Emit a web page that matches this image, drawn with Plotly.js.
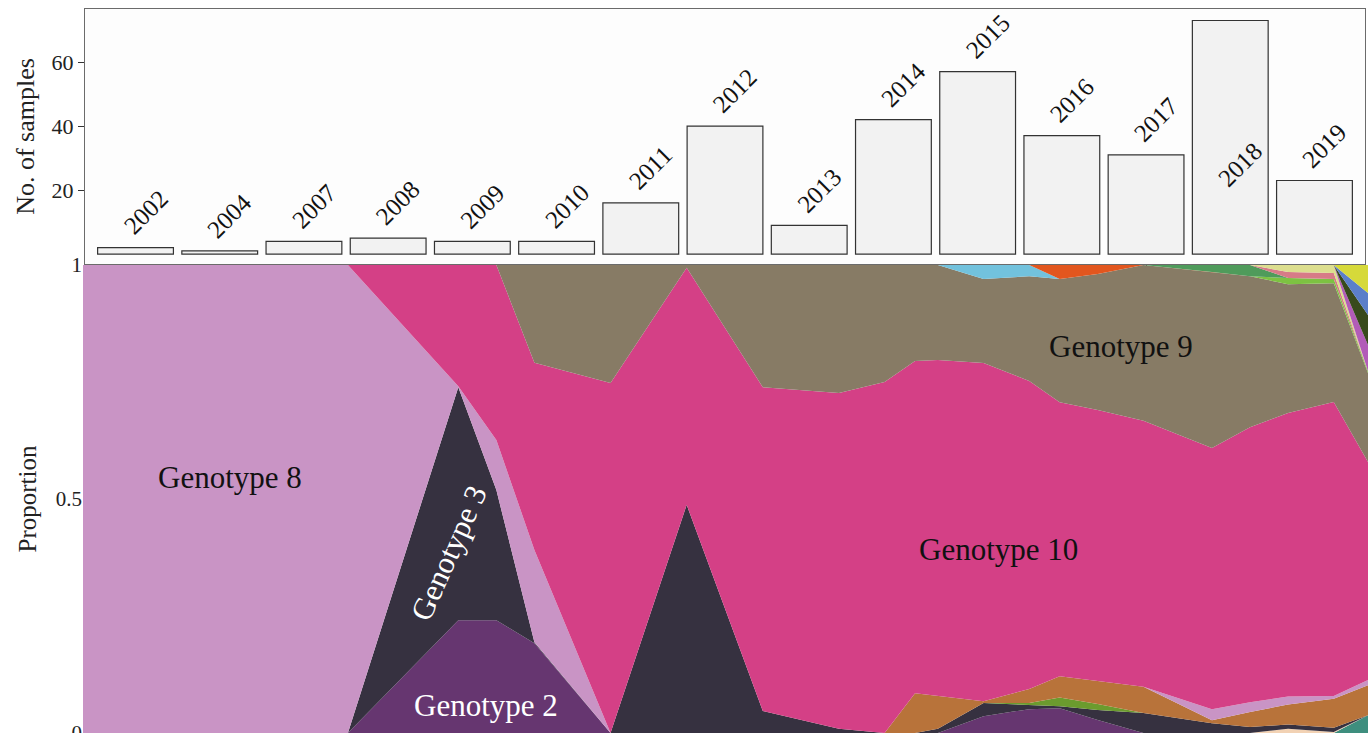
<!DOCTYPE html>
<html>
<head>
<meta charset="utf-8">
<script src="https://cdn.plot.ly/plotly-3.0.1.min.js"></script>
<style>
  html, body { margin: 0; padding: 0; background: #ffffff; }
  #chart { width: 1372px; height: 733px; }
</style>
</head>
<body>
<div id="chart"></div>
<script>
// ---------- Top panel: number of samples per year ----------
const years = ["2002","2004","2007","2008","2009","2010","2011","2012","2013","2014","2015","2016","2017","2018","2019"];
const sampleCounts = [2, 1, 4, 5, 4, 4, 16, 40, 9, 42, 57, 37, 31, 73, 23];

// ---------- Bottom panel: genotype proportions through time ----------
const timePoints = [2004.07, 2007.55, 2009.0, 2009.5, 2010.0, 2011.0, 2012.0, 2013.0, 2014.0, 2014.6, 2015.0,
                    2015.3, 2015.9, 2016.5, 2016.9, 2017.4, 2018.0, 2018.9, 2019.4, 2019.9, 2020.5, 2020.95];

const otherTeal   = [0,0,0,0,0,0,0,0,0,0,0,0,0,0,0,0,0,0,0,0,0,0.038];
const otherBeige  = [0,0,0,0,0,0,0,0,0,0,0,0,0,0,0,0,0,0,0,0.009,0.002,0];
const genotype2   = [0,0,0.241,0.241,0.192,0,0,0,0,0,0,0,0.036,0.051,0.053,0.028,0,0,0,0,0,0];
const genotype3   = [0,0,0.498,0.278,0.002,0,0.487,0.047,0.009,0,0,0.009,0.028,0.009,0.004,0.021,0.043,0.021,0.013,0.009,0.009,0];
const otherOlive  = [0,0,0,0,0,0,0,0,0,0,0,0,0,0.004,0.019,0.013,0,0,0,0,0,0];
const otherOchre  = [0,0,0,0,0,0,0,0,0,0,0.085,0.071,0.004,0.030,0.045,0.049,0.056,0.006,0.032,0.043,0.062,0.064];
const genotype8   = [1,1,0.002,0.107,0.197,0,0,0,0,0,0,0,0,0,0,0,0,0.024,0.021,0.017,0.006,0.011];
const genotype10  = [0,0,0.259,0.374,0.400,0.748,0.506,0.692,0.718,0.750,0.709,0.718,0.722,0.658,0.585,0.579,0.568,0.558,0.588,0.607,0.628,0.466];
const genotype9   = [0,0,0,0,0.209,0.252,0.006,0.261,0.274,0.250,0.205,0.203,0.179,0.224,0.263,0.291,0.333,0.376,0.323,0.276,0.254,0.190];
const otherLime   = [0,0,0,0,0,0,0,0,0,0,0,0,0,0,0,0,0,0,0,0.013,0.009,0.004];
const otherCyan   = [0,0,0,0,0,0,0,0,0,0,0,0,0.030,0.024,0,0,0,0,0,0,0,0];
const otherOrange = [0,0,0,0,0,0,0,0,0,0,0,0,0,0,0.030,0.019,0,0,0,0,0,0];
const otherGreen  = [0,0,0,0,0,0,0,0,0,0,0,0,0,0,0,0,0,0.015,0.024,0,0,0];
const otherRose   = [0,0,0,0,0,0,0,0,0,0,0,0,0,0,0,0,0,0,0,0.013,0.013,0];
const otherCream  = [0,0,0,0,0,0,0,0,0,0,0,0,0,0,0,0,0,0,0,0.015,0.017,0];
const otherViolet = [0,0,0,0,0,0,0,0,0,0,0,0,0,0,0,0,0,0,0,0,0,0.056];
const otherForest = [0,0,0,0,0,0,0,0,0,0,0,0,0,0,0,0,0,0,0,0,0,0.064];
const otherBlue   = [0,0,0,0,0,0,0,0,0,0,0,0,0,0,0,0,0,0,0,0,0,0.047];
const otherYellow = [0,0,0,0,0,0,0,0,0,0,0,0,0,0,0,0,0,0,0,0,0,0.060];

// stacking order, bottom to top
const stackSeries = [
  ["Other (teal)",   otherTeal,   "#3e8e7e"],
  ["Other (beige)",  otherBeige,  "#f2d2b4"],
  ["Genotype 2",     genotype2,   "#663670"],
  ["Genotype 3",     genotype3,   "#363140"],
  ["Other (olive)",  otherOlive,  "#6b9b2e"],
  ["Other (ochre)",  otherOchre,  "#b8733a"],
  ["Genotype 8",     genotype8,   "#c994c5"],
  ["Genotype 10",    genotype10,  "#d44086"],
  ["Genotype 9",     genotype9,   "#877b65"],
  ["Other (lime)",   otherLime,   "#7dc242"],
  ["Other (cyan)",   otherCyan,   "#72c2dd"],
  ["Other (orange)", otherOrange, "#e2561e"],
  ["Other (green)",  otherGreen,  "#4f9b5b"],
  ["Other (rose)",   otherRose,   "#d77b87"],
  ["Other (cream)",  otherCream,  "#dcde8e"],
  ["Other (violet)", otherViolet, "#b25cb8"],
  ["Other (forest)", otherForest, "#384a1c"],
  ["Other (blue)",   otherBlue,   "#5b7fc9"],
  ["Other (yellow)", otherYellow, "#d6d93a"]
];

const genotypeLabels = [
  {text: "Genotype 8",  t: 2006.0,  p: 0.545, color: "#111111", angle: 0},
  {text: "Genotype 3",  t: 2008.88, p: 0.385, color: "#ffffff", angle: -66},
  {text: "Genotype 2",  t: 2009.36, p: 0.058, color: "#ffffff", angle: 0},
  {text: "Genotype 10", t: 2016.09, p: 0.393, color: "#111111", angle: 0},
  {text: "Genotype 9",  t: 2017.70, p: 0.825, color: "#111111", angle: 0}
];

const FONT = '"Liberation Serif", "Times New Roman", Times, serif';
const W = 1372, H = 733;

const traces = [];
traces.push({
  type: "bar", x: years, y: sampleCounts, xaxis: "x", yaxis: "y",
  marker: {color: "#f2f2f2", line: {color: "#333333", width: 1.2}},
  width: 0.9, hoverinfo: "skip", showlegend: false
});
stackSeries.forEach(([name, vals, col], i) => {
  const tr = {
    type: "scatter", mode: "lines", name: name,
    x: timePoints, y: vals, xaxis: "x2", yaxis: "y2",
    stackgroup: "geno", line: {width: 0, shape: "linear"},
    fillcolor: col, hoverinfo: "skip", showlegend: false
  };
  if (i === 0) tr.groupnorm = "fraction";
  traces.push(tr);
});

const yTopMax = 76.6;
const annotations = [];
years.forEach((yr, i) => {
  const v = sampleCounts[i];
  const yPos = (v + 11 > yTopMax - 5) ? v - 45 : v + 11;
  annotations.push({
    x: i, y: yPos, xref: "x", yref: "y", text: yr, showarrow: false,
    textangle: -45, xshift: 10, font: {family: FONT, size: 25, color: "#111111"}
  });
});
genotypeLabels.forEach(g => {
  annotations.push({
    x: g.t, y: g.p, xref: "x2", yref: "y2", text: g.text, showarrow: false,
    textangle: g.angle, font: {family: FONT, size: 31, color: g.color}
  });
});

const layout = {
  width: W, height: H,
  margin: {l: 0, r: 0, t: 0, b: 0},
  paper_bgcolor: "#ffffff", plot_bgcolor: "#fdfdfd",
  font: {family: FONT, color: "#222222"},
  showlegend: false, hovermode: false,
  xaxis: {
    domain: [85 / W, 1365 / W], anchor: "y", type: "category",
    range: [-0.6, 14.6], showticklabels: false,
    ticks: "outside", ticklen: 4, tickcolor: "#333333",
    showline: true, mirror: true, linecolor: "#6b6b6b", linewidth: 1,
    showgrid: false, zeroline: false
  },
  yaxis: {
    domain: [1 - 264 / H, 1 - 9 / H], anchor: "x",
    range: [-3.1, yTopMax], tickvals: [20, 40, 60],
    ticks: "outside", ticklen: 6, tickcolor: "#333333",
    tickfont: {family: FONT, size: 22, color: "#222222"},
    showline: true, mirror: true, linecolor: "#6b6b6b", linewidth: 1,
    showgrid: false, zeroline: false,
    title: {text: "No. of samples", font: {family: FONT, size: 26, color: "#222222"}, standoff: 9}
  },
  xaxis2: {
    domain: [83 / W, 1368 / W], anchor: "y2",
    range: [timePoints[0], timePoints[timePoints.length - 1]],
    visible: false, showgrid: false, zeroline: false
  },
  yaxis2: {
    domain: [0, 1 - 265 / H], anchor: "x2",
    range: [0, 1], tickvals: [0, 0.5, 1], ticks: "",
    ticklabeloverflow: "allow",
    tickfont: {family: FONT, size: 21, color: "#222222"},
    showgrid: false, zeroline: false, showline: false,
    title: {text: "Proportion", font: {family: FONT, size: 25, color: "#222222"}, standoff: 12}
  },
  annotations: annotations
};

Plotly.newPlot("chart", traces, layout, {staticPlot: true, displayModeBar: false});
</script>
</body>
</html>
